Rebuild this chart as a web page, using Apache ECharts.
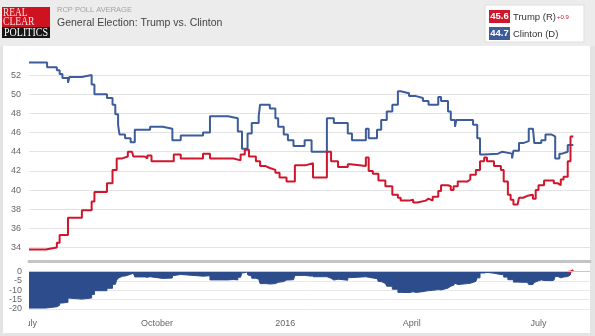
<!DOCTYPE html>
<html>
<head>
<meta charset="utf-8">
<script src="https://cdn.jsdelivr.net/npm/echarts@6/dist/echarts.min.js"></script>
<style>
  html, body { margin: 0; padding: 0; background: #e4e4e4; }
  #chart { width: 595px; height: 336px; }
</style>
</head>
<body>
<div id="chart"></div>
<script>
// RCP poll average, general election head-to-head (daily steps)
const trumpPoints = [
  ['2015-07-01', 33.8], ['2015-07-13', 34.0], ['2015-07-21', 34.5], ['2015-07-23', 35.3],
  ['2015-07-29', 37.1], ['2015-08-08', 37.9], ['2015-08-15', 38.8], ['2015-08-17', 39.8],
  ['2015-08-26', 40.7], ['2015-08-30', 42.1], ['2015-09-02', 43.3], ['2015-09-06', 43.5],
  ['2015-09-10', 44.0], ['2015-09-13', 44.2], ['2015-09-14', 43.5], ['2015-09-22', 43.3],
  ['2015-09-24', 43.6], ['2015-09-27', 43.0], ['2015-10-13', 43.7], ['2015-10-18', 43.3],
  ['2015-11-03', 43.8], ['2015-11-08', 43.3], ['2015-11-25', 43.1], ['2015-11-30', 43.7],
  ['2015-12-03', 44.2], ['2015-12-06', 43.5], ['2015-12-11', 43.0], ['2015-12-14', 42.5],
  ['2015-12-18', 42.3], ['2015-12-21', 42.1], ['2015-12-25', 41.8], ['2015-12-28', 41.3],
  ['2016-01-02', 40.9], ['2016-01-08', 42.6], ['2016-01-16', 42.8], ['2016-01-21', 41.3],
  ['2016-01-31', 44.0], ['2016-02-03', 43.0], ['2016-02-08', 42.4], ['2016-02-15', 42.7],
  ['2016-02-17', 42.5], ['2016-02-28', 43.4], ['2016-03-01', 42.0], ['2016-03-04', 41.7],
  ['2016-03-08', 41.0], ['2016-03-13', 40.4], ['2016-03-18', 39.5], ['2016-03-22', 39.2],
  ['2016-03-24', 38.9], ['2016-03-30', 39.0], ['2016-04-02', 38.7], ['2016-04-05', 38.9],
  ['2016-04-11', 39.1], ['2016-04-13', 38.9], ['2016-04-16', 39.3], ['2016-04-20', 39.9],
  ['2016-04-22', 40.5], ['2016-04-27', 40.4], ['2016-04-29', 40.0], ['2016-05-01', 40.4],
  ['2016-05-04', 40.9], ['2016-05-11', 41.1], ['2016-05-13', 41.6], ['2016-05-17', 42.1],
  ['2016-05-20', 43.0], ['2016-05-23', 43.4], ['2016-05-25', 43.0], ['2016-05-30', 42.5],
  ['2016-06-04', 42.1], ['2016-06-06', 40.9], ['2016-06-09', 39.5], ['2016-06-11', 39.0],
  ['2016-06-13', 38.5], ['2016-06-16', 38.3], ['2016-06-17', 39.2], ['2016-06-20', 39.4],
  ['2016-06-23', 39.5], ['2016-06-27', 39.1], ['2016-06-29', 40.0], ['2016-07-01', 40.5],
  ['2016-07-05', 41.0], ['2016-07-12', 40.7], ['2016-07-15', 40.5], ['2016-07-17', 41.1],
  ['2016-07-19', 41.4], ['2016-07-22', 43.0], ['2016-07-24', 45.6], ['2016-07-26', 45.6]
];

const clintonPoints = [
  ['2015-07-01', 53.3], ['2015-07-14', 52.8], ['2015-07-21', 52.5], ['2015-07-23', 52.1],
  ['2015-07-25', 51.7], ['2015-07-29', 51.2], ['2015-07-30', 51.8], ['2015-08-08', 52.0],
  ['2015-08-15', 51.0], ['2015-08-17', 50.0], ['2015-08-26', 49.6], ['2015-08-30', 48.9],
  ['2015-09-01', 47.9], ['2015-09-03', 46.8], ['2015-09-04', 45.8], ['2015-09-08', 45.4],
  ['2015-09-12', 45.0], ['2015-09-15', 46.3], ['2015-09-26', 46.6], ['2015-10-05', 46.4],
  ['2015-10-12', 45.2], ['2015-10-18', 45.7], ['2015-11-03', 46.0], ['2015-11-08', 47.7],
  ['2015-11-21', 47.5], ['2015-11-28', 46.1], ['2015-12-01', 44.3], ['2015-12-05', 45.9],
  ['2015-12-08', 47.0], ['2015-12-13', 47.7], ['2015-12-14', 48.9], ['2015-12-21', 48.5],
  ['2015-12-25', 47.5], ['2015-12-27', 46.6], ['2015-12-31', 45.8], ['2016-01-03', 45.2],
  ['2016-01-07', 44.6], ['2016-01-15', 45.2], ['2016-01-20', 44.0], ['2016-01-31', 47.5],
  ['2016-02-05', 47.0], ['2016-02-15', 45.9], ['2016-02-18', 45.2], ['2016-02-28', 46.4],
  ['2016-03-01', 45.4], ['2016-03-07', 46.3], ['2016-03-10', 47.3], ['2016-03-14', 48.2],
  ['2016-03-18', 48.9], ['2016-03-22', 50.3], ['2016-03-24', 50.1], ['2016-03-30', 49.8],
  ['2016-04-04', 49.6], ['2016-04-09', 49.3], ['2016-04-13', 48.9], ['2016-04-20', 49.7],
  ['2016-04-22', 49.3], ['2016-04-27', 48.2], ['2016-04-29', 47.3], ['2016-05-02', 46.6],
  ['2016-05-03', 47.3], ['2016-05-15', 46.8], ['2016-05-18', 45.4], ['2016-05-20', 43.7],
  ['2016-05-23', 43.5], ['2016-05-24', 43.8], ['2016-06-02', 44.0], ['2016-06-05', 43.8],
  ['2016-06-12', 43.3], ['2016-06-13', 44.1], ['2016-06-17', 44.9], ['2016-06-20', 45.1],
  ['2016-06-24', 46.4], ['2016-06-27', 46.6], ['2016-06-28', 44.9], ['2016-07-03', 45.2],
  ['2016-07-06', 45.8], ['2016-07-10', 45.6], ['2016-07-13', 43.3], ['2016-07-16', 43.8],
  ['2016-07-18', 44.0], ['2016-07-22', 44.7], ['2016-07-26', 44.7]
];

const axisStart = '2015-07-01';
const axisEnd = '2016-08-07';
const monthTickDates = ['2015-07-01', '2015-10-01', '2016-01-01', '2016-04-01', '2016-07-01'];
const monthTickLabels = ['July', 'October', '2016', 'April', 'July'];

const RED = '#d0162c';
const BLUE = '#3c5c9b';
const AREA_BLUE = '#2c4c8c';
const FONT = 'Liberation Sans, Arial, sans-serif';
const SERIF = '"Liberation Serif", serif';

function toTime(s) {
  const [y, m, d] = s.split('-').map(Number);
  return new Date(y, m - 1, d).getTime();
}

// value of a step series on a given day
function valueAt(points, t) {
  let v = null;
  for (const [d, val] of points) {
    if (toTime(d) <= t) v = val; else break;
  }
  return v;
}

const trumpData = trumpPoints.map(([d, v]) => [toTime(d), v]);
const clintonData = clintonPoints.map(([d, v]) => [toTime(d), v]);

// spread (Trump minus Clinton) on every day either average changes
const spreadTimes = Array.from(new Set(trumpData.map(p => p[0]).concat(clintonData.map(p => p[0]))))
  .sort((a, b) => a - b);
const spread = spreadTimes.map(t => +(valueAt(trumpPoints, t) - valueAt(clintonPoints, t)).toFixed(1));
const spreadNeg = spreadTimes.map((t, i) => [t, Math.min(spread[i], 0)]);
const spreadPos = spreadTimes.map((t, i) => {
  if (spread[i] > 0) return [t, spread[i]];
  if (i + 1 < spread.length && spread[i + 1] > 0) return [t, 0];
  return [t, null];
});

const lastTrump = trumpPoints[trumpPoints.length - 1][1];
const lastClinton = clintonPoints[clintonPoints.length - 1][1];
const lead = lastTrump - lastClinton;
const leadText = (lead >= 0 ? '+' : '') + lead.toFixed(1);

const tickTimes = monthTickDates.map(toTime);
const tickLabelByTime = {};
tickTimes.forEach((t, i) => { tickLabelByTime[t] = monthTickLabels[i]; });

const chart = echarts.init(document.getElementById('chart'), null, { renderer: 'canvas' });

chart.setOption({
  backgroundColor: '#e4e4e4',
  animation: false,
  textStyle: { fontFamily: FONT },
  grid: [
    { left: 29, right: 5, top: 57, height: 204 },
    { left: 29, right: 5, top: 267, height: 42 }
  ],
  xAxis: [
    {
      type: 'value', gridIndex: 0, min: toTime(axisStart), max: toTime(axisEnd),
      axisLabel: { show: false }, axisTick: { show: false }, splitLine: { show: false },
      axisLine: { show: true, onZero: false, lineStyle: { color: '#c4c4c4', width: 3 } }
    },
    {
      type: 'value', gridIndex: 1, min: toTime(axisStart), max: toTime(axisEnd),
      axisLine: { show: false, onZero: false }, axisTick: { show: false }, splitLine: { show: false },
      axisLabel: {
        customValues: tickTimes,
        formatter: v => tickLabelByTime[v] || '',
        color: '#666', fontSize: 9, margin: 10, fontFamily: FONT,
        hideOverlap: false
      }
    }
  ],
  yAxis: [
    {
      type: 'value', gridIndex: 0, min: 32.6, max: 53.88, minInterval: 2, maxInterval: 2,
      axisLine: { show: false }, axisTick: { show: false },
      axisLabel: {
        color: '#666', fontSize: 9, margin: 8, fontFamily: FONT,
        formatter: v => (Math.abs(v % 2) < 1e-9 ? String(v) : '')
      },
      splitLine: { show: true, showMinLine: false, showMaxLine: false, lineStyle: { color: '#e3e3e3', width: 1 } }
    },
    {
      type: 'value', gridIndex: 1, min: -20, max: 2.5, minInterval: 5, maxInterval: 5,
      axisLine: { show: false }, axisTick: { show: false },
      axisLabel: {
        color: '#666', fontSize: 9, margin: 7, fontFamily: FONT,
        formatter: v => (Math.abs(v % 5) < 1e-9 ? String(v) : '')
      },
      splitLine: { show: true, showMaxLine: false, lineStyle: { color: '#e8e8e8', width: 1 } }
    }
  ],
  series: [
    {
      name: 'Clinton (D)', type: 'line', xAxisIndex: 0, yAxisIndex: 0, step: 'end',
      data: clintonData, showSymbol: false, z: 3,
      lineStyle: { color: BLUE, width: 2 }, itemStyle: { color: BLUE }
    },
    {
      name: 'Trump (R)', type: 'line', xAxisIndex: 0, yAxisIndex: 0, step: 'end',
      data: trumpData, showSymbol: false, z: 4,
      lineStyle: { color: RED, width: 2 }, itemStyle: { color: RED }
    },
    {
      name: 'Spread', type: 'line', xAxisIndex: 1, yAxisIndex: 1, step: 'end',
      data: spreadNeg, showSymbol: false,
      lineStyle: { color: AREA_BLUE, width: 1 }, itemStyle: { color: AREA_BLUE },
      areaStyle: { color: AREA_BLUE, opacity: 1 },
      markLine: {
        silent: true, symbol: 'none', label: { show: false },
        lineStyle: { color: '#c6c6c6', width: 1, type: 'solid' },
        data: [{ yAxis: 0 }]
      }
    },
    {
      name: 'Spread lead', type: 'line', xAxisIndex: 1, yAxisIndex: 1, step: 'end',
      data: spreadPos, showSymbol: false, connectNulls: false,
      lineStyle: { color: RED, width: 2 }, itemStyle: { color: RED },
      areaStyle: { color: RED, opacity: 1 }
    }
  ],
  graphic: [
    // white chart panel
    { type: 'rect', z: -100, silent: true, shape: { x: 3, y: 46, width: 587, height: 287 }, style: { fill: '#ffffff' } },
    // header band
    { type: 'rect', z: -100, silent: true, shape: { x: 0, y: 0, width: 595, height: 46 }, style: { fill: '#ececec' } },
    // masthead
    { type: 'rect', silent: true, shape: { x: 2, y: 7, width: 48, height: 20 }, style: { fill: '#cf1220' } },
    { type: 'rect', silent: true, shape: { x: 2, y: 27, width: 48, height: 11 }, style: { fill: '#161616' } },
    { type: 'text', silent: true, x: 3, y: 12.5, scaleX: 0.78,
      style: { text: 'REAL', fill: '#f8e4e4', font: '12px ' + SERIF, verticalAlign: 'middle' } },
    { type: 'text', silent: true, x: 3, y: 21.5, scaleX: 0.8,
      style: { text: 'CLEAR', fill: '#f8e4e4', font: '12px ' + SERIF, verticalAlign: 'middle' } },
    { type: 'text', silent: true, x: 26, y: 33, scaleX: 0.8,
      style: { text: 'POLITICS', fill: '#ffffff', font: '12.5px ' + SERIF, align: 'center', verticalAlign: 'middle' } },
    // titles
    { type: 'text', silent: true, x: 57, y: 10,
      style: { text: 'RCP POLL AVERAGE', fill: '#a2a2a2', font: '7.5px ' + FONT, verticalAlign: 'middle' } },
    { type: 'text', silent: true, x: 57, y: 23,
      style: { text: 'General Election: Trump vs. Clinton', fill: '#444444', font: '10.5px ' + FONT, verticalAlign: 'middle' } },
    // legend box
    { type: 'rect', silent: true, shape: { x: 485, y: 5, width: 99, height: 37 }, style: { fill: '#ffffff', stroke: '#dddddd', lineWidth: 1 } },
    { type: 'rect', silent: true, shape: { x: 489, y: 10, width: 21, height: 13 }, style: { fill: RED } },
    { type: 'text', silent: true, x: 499.5, y: 16.5,
      style: { text: lastTrump.toFixed(1), fill: '#ffffff', font: 'bold 9.5px ' + FONT, align: 'center', verticalAlign: 'middle' } },
    { type: 'text', silent: true, x: 513, y: 17,
      style: { text: 'Trump (R)', fill: '#333333', font: '9.5px ' + FONT, verticalAlign: 'middle' } },
    { type: 'text', silent: true, x: 557, y: 17.5,
      style: { text: leadText, fill: RED, font: '6px ' + FONT, verticalAlign: 'middle' } },
    { type: 'rect', silent: true, shape: { x: 489, y: 27, width: 21, height: 13 }, style: { fill: BLUE } },
    { type: 'text', silent: true, x: 499.5, y: 33.5,
      style: { text: lastClinton.toFixed(1), fill: '#ffffff', font: 'bold 9.5px ' + FONT, align: 'center', verticalAlign: 'middle' } },
    { type: 'text', silent: true, x: 513, y: 34,
      style: { text: 'Clinton (D)', fill: '#333333', font: '9.5px ' + FONT, verticalAlign: 'middle' } },
    // the first month label is cut at the plot's left edge
    { type: 'rect', silent: true, z: 100, shape: { x: 3, y: 314, width: 25, height: 18 }, style: { fill: '#ffffff' } }
  ]
});
</script>
</body>
</html>
